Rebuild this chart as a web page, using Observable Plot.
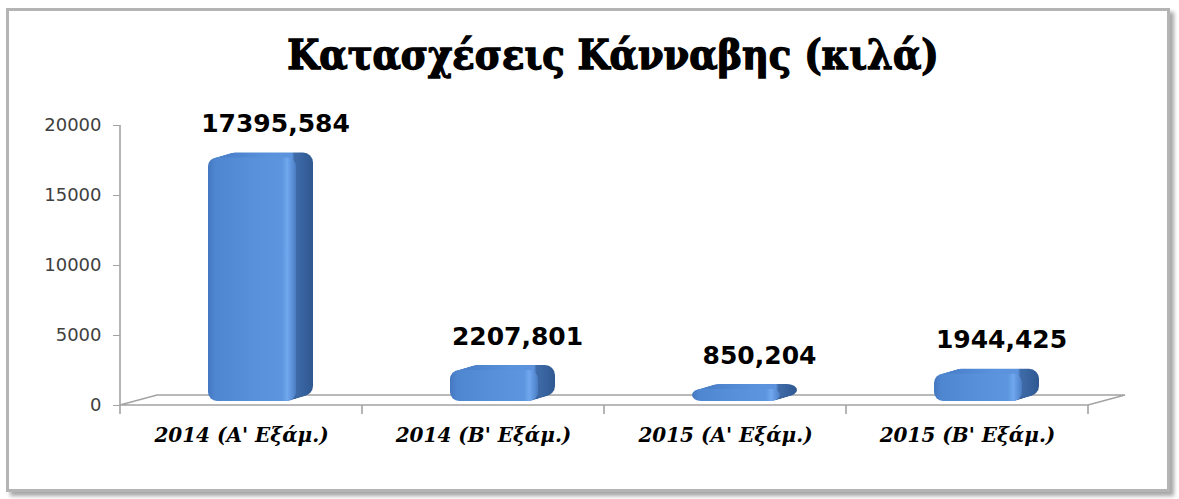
<!DOCTYPE html>
<html><head><meta charset="utf-8">
<script src="https://cdn.jsdelivr.net/npm/d3@7"></script>
<script src="https://cdn.jsdelivr.net/npm/@observablehq/plot@0.6"></script>
<style>
body{margin:0;background:#fff;width:1179px;height:499px;overflow:hidden;position:relative}
#frame{position:absolute;left:6px;top:8px;width:1158px;height:478px;border:3px solid #b4b4b4;box-shadow:4px 4px 4px rgba(0,0,0,.35);background:#fff}
#title{position:absolute;left:0;width:1226px;top:30px;text-align:center;font-family:"DejaVu Serif";font-weight:bold;font-stretch:condensed;font-size:41px;line-height:50px;color:#000;-webkit-text-stroke:1.3px #000}
#chart{position:absolute;left:0;top:0}
</style></head><body>
<div id="frame"></div><div id="title">Κατασχέσεις Κάνναβης (κιλά)</div><div id="chart"></div>
<script>
const categories = ["2014 (Α' Εξάμ.)", "2014 (Β' Εξάμ.)", "2015 (Α' Εξάμ.)", "2015 (Β' Εξάμ.)"];
const values = [17395.584, 2207.801, 850.204, 1944.425];
const valueLabels = ["17395,584", "2207,801", "850,204", "1944,425"];
const yTicks = [0, 5000, 10000, 15000, 20000];

const data = categories.map((c, i) => ({category: c, value: values[i], label: valueLabels[i]}));

const DEPTH_X = 37, DEPTH_Y = -10;

function floor(index, scales) {
  const {x, y} = scales;
  const starts = categories.map(c => x(c));
  const bw = starts[1] - starts[0];
  const edges = [...starts, starts[starts.length - 1] + bw];
  const x0 = edges[0], x1 = edges[edges.length - 1], y0 = y(0);
  const g = d3.create("svg:g").attr("stroke", "#a3a3a3").attr("fill", "none").attr("stroke-width", 1.6);
  g.append("path").attr("d", `M${x0},${y0}L${x1},${y0}L${x1 + DEPTH_X},${y0 + DEPTH_Y}L${x0 + DEPTH_X},${y0 + DEPTH_Y}Z`);
  edges.forEach(e => g.append("line").attr("x1", e).attr("x2", e).attr("y1", y0).attr("y2", y0 + 9));
  g.append("line").attr("x1", x0).attr("x2", x0).attr("y1", y(yTicks[yTicks.length - 1])).attr("y2", y0);
  return g.node();
}

const steps = 12;
const extrusion = d3.range(1, steps + 1).map(k =>
  Plot.barY(data, {x: "category", y: "value", fill: "url(#sideGrad)",
    insetLeft: 77, insetRight: 77, dx: 11 + 17 * k / steps, dy: -4 - 5 * k / steps, rx: 10})
);

const plot = Plot.plot({
  width: 1179, height: 499,
  marginLeft: 120, marginRight: 91, marginTop: 125, marginBottom: 94,
  style: {background: "transparent", overflow: "visible"},
  x: {domain: categories, padding: 0},
  y: {domain: [0, 20000]},
  marks: [
    floor,
    ...extrusion,
    Plot.barY(data, {x: "category", y: "value", fill: "url(#frontGrad)", insetLeft: 77, insetRight: 77, dx: 11, dy: -4, rx: 9}),
    Plot.axisY({ticks: yTicks, tickSize: 7, tickPadding: 12, tickFormat: d3.format("d"), label: null,
      fontSize: 18, fontFamily: "DejaVu Sans", fill: "#404040", stroke: "#a3a3a3"}),
    Plot.axisX({tickSize: 0, tickPadding: 22, label: null, fontSize: 20, fontFamily: "DejaVu Serif",
      fontWeight: "bold", fontStyle: "italic", fill: "#000"}),
    Plot.text(data, {x: "category", y: "value", text: "label", dx: 34, dy: -38, fontSize: 25,
      fontWeight: "bold", fontFamily: "DejaVu Sans", fill: "#000"})
  ]
});

const defs = d3.select(plot).insert("defs", ":first-child");
const grad = defs.append("linearGradient").attr("id", "frontGrad").attr("x1", 0).attr("x2", 1).attr("y1", 0).attr("y2", 0);
[[0, "#4477c0"], [0.08, "#4f86d0"], [0.5, "#5890da"], [0.84, "#5d96de"], [0.9, "#70a7ee"], [0.96, "#5a8fd6"], [1, "#4a7cc2"]]
  .forEach(([o, c]) => grad.append("stop").attr("offset", o).attr("stop-color", c));
const side = defs.append("linearGradient").attr("id", "sideGrad").attr("x1", 0).attr("x2", 1).attr("y1", 0).attr("y2", 0);
[[0, "#4a80c9"], [0.5, "#5a92dc"], [0.76, "#5c93dc"], [0.79, "#3f6ca9"], [1, "#2f5891"]]
  .forEach(([o, c]) => side.append("stop").attr("offset", o).attr("stop-color", c));

document.getElementById("chart").append(plot);
</script>
</body></html>
